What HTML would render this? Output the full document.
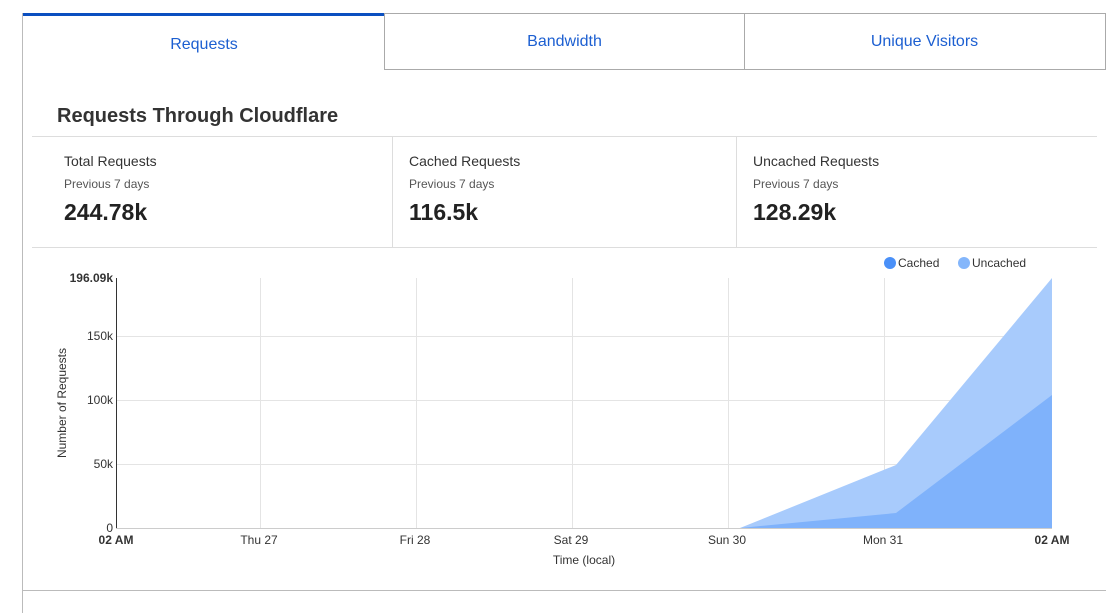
<!DOCTYPE html><html><head><style>
body{margin:0;background:#fff;font-family:"Liberation Sans",sans-serif;width:1106px;height:602px;overflow:hidden;position:relative}
.a{position:absolute}
.tab{position:absolute;top:13px;height:57px;box-sizing:border-box;color:#1c5fd1;font-size:16px;text-align:center;line-height:58px}
</style></head><body>
<div class="a" style="left:22px;top:13px;width:1084px;height:600px;border-left:1px solid #bbb;border-right:1px solid #bbb"></div>
<div class="tab" style="left:23px;width:362px;border-top:3px solid #0b4fc0;line-height:58px">Requests</div>
<div class="tab" style="left:384px;width:361px;border:1px solid #aaa;line-height:56px">Bandwidth</div>
<div class="tab" style="left:744px;width:362px;border:1px solid #aaa;border-left:none;line-height:56px">Unique Visitors</div>
<div class="a" style="left:57px;top:105px;font-size:20px;font-weight:bold;color:#333">Requests Through Cloudflare</div>
<div class="a" style="left:32px;top:136px;width:1065px;height:1px;background:#ddd"></div>
<div class="a" style="left:32px;top:247px;width:1065px;height:1px;background:#ddd"></div>
<div class="a" style="left:392px;top:136px;width:1px;height:111px;background:#ddd"></div>
<div class="a" style="left:736px;top:136px;width:1px;height:111px;background:#ddd"></div>
<div class="a" style="left:22px;top:590px;width:1084px;height:1px;background:#bbb"></div>
<div class="a" style="left:64px;top:153px;font-size:14px;color:#333">Total Requests</div>
<div class="a" style="left:64px;top:177px;font-size:12px;color:#555">Previous 7 days</div>
<div class="a" style="left:64px;top:199px;font-size:23px;font-weight:bold;color:#222">244.78k</div>
<div class="a" style="left:409px;top:153px;font-size:14px;color:#333">Cached Requests</div>
<div class="a" style="left:409px;top:177px;font-size:12px;color:#555">Previous 7 days</div>
<div class="a" style="left:409px;top:199px;font-size:23px;font-weight:bold;color:#222">116.5k</div>
<div class="a" style="left:753px;top:153px;font-size:14px;color:#333">Uncached Requests</div>
<div class="a" style="left:753px;top:177px;font-size:12px;color:#555">Previous 7 days</div>
<div class="a" style="left:753px;top:199px;font-size:23px;font-weight:bold;color:#222">128.29k</div>
<svg class="a" style="left:0;top:0" width="1106" height="602" font-family="Liberation Sans, sans-serif">
<g stroke="#e4e4e4" stroke-width="1">
<line x1="116" y1="336.5" x2="1052" y2="336.5"/><line x1="116" y1="400.5" x2="1052" y2="400.5"/><line x1="116" y1="464.5" x2="1052" y2="464.5"/>
<line x1="260.5" y1="278" x2="260.5" y2="528"/><line x1="416.5" y1="278" x2="416.5" y2="528"/><line x1="572.5" y1="278" x2="572.5" y2="528"/><line x1="728.5" y1="278" x2="728.5" y2="528"/><line x1="884.5" y1="278" x2="884.5" y2="528"/>
</g>
<polygon points="740,528 896,465 1052,278 1052,528" fill="#a8cbfc"/>
<polygon points="740,528 896,513 1052,395 1052,528" fill="#7fb2fb"/>
<line x1="116.5" y1="278" x2="116.5" y2="528" stroke="#333"/>
<line x1="116" y1="528.5" x2="1052" y2="528.5" stroke="#ccc"/>
<g font-size="12" fill="#333" text-anchor="end">
<text x="113" y="282" font-weight="bold">196.09k</text><text x="113" y="340">150k</text><text x="113" y="404">100k</text><text x="113" y="468">50k</text><text x="113" y="532">0</text></g>
<g font-size="12" fill="#333" text-anchor="middle">
<text x="116" y="544" font-weight="bold">02 AM</text><text x="259" y="544">Thu 27</text><text x="415" y="544">Fri 28</text><text x="571" y="544">Sat 29</text><text x="727" y="544">Sun 30</text><text x="883" y="544">Mon 31</text><text x="1052" y="544" font-weight="bold">02 AM</text>
<text x="584" y="564">Time (local)</text>
<text transform="translate(66,403) rotate(-90)">Number of Requests</text></g>
<circle cx="890" cy="263" r="6" fill="#4a90f8"/><text x="898" y="267" font-size="12" fill="#333">Cached</text>
<circle cx="964" cy="263" r="6" fill="#84b6fb"/><text x="972" y="267" font-size="12" fill="#333">Uncached</text>
</svg>
</body></html>
